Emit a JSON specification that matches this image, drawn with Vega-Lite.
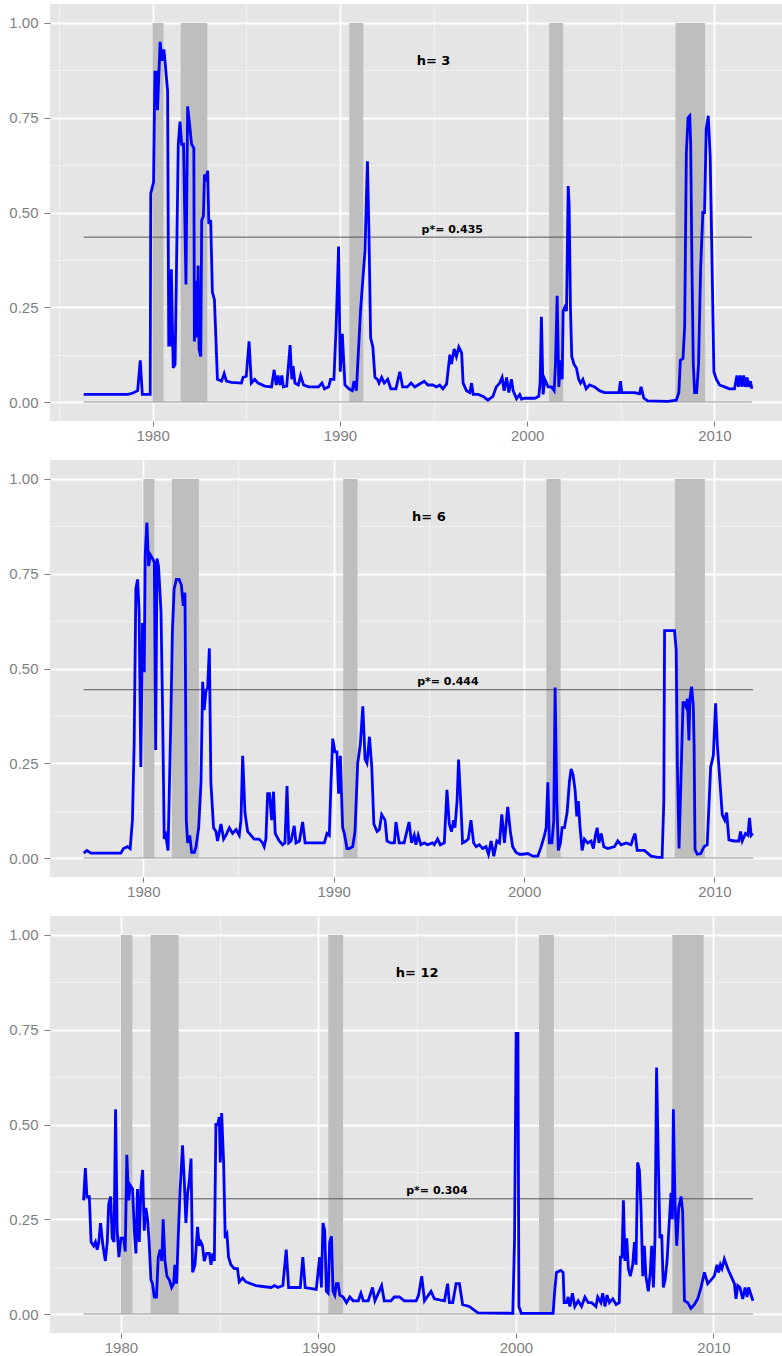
{
  "$schema": "https://vega.github.io/schema/vega-lite/v6.json",
  "padding": {"top": 4, "left": 8, "right": 0, "bottom": 0},
  "spacing": 17,
  "config": {
    "view": {"fill": "#e5e5e5", "stroke": null},
    "axis": {"domain": false, "grid": true, "title": null, "labelFont": "Liberation Sans", "labelFontSize": 15, "labelColor": "#7f7f7f", "tickColor": "#7f7f7f", "tickSize": 5, "labelOverlap": false, "labelFlush": false},
    "axisX": {"labelPadding": 2, "labelBaseline": "top"},
    "axisY": {"labelPadding": 6, "tickSize": 6}
  },
  "datasets": {
    "rec": [
      {"start": 1980.0, "end": 1980.58},
      {"start": 1981.5, "end": 1982.92},
      {"start": 1990.5, "end": 1991.25},
      {"start": 2001.17, "end": 2001.92},
      {"start": 2007.92, "end": 2009.5}
    ],
    "h3": [
      {"t":1976.32,"p":0.02},{"t":1977.5,"p":0.02},{"t":1978.67,"p":0.02},{"t":1978.85,"p":0.022},{"t":1979.0,"p":0.025},{"t":1979.2,"p":0.03},{"t":1979.34,"p":0.11},{"t":1979.45,"p":0.02},{"t":1979.87,"p":0.02},{"t":1979.9,"p":0.55},{"t":1980.05,"p":0.58},{"t":1980.12,"p":0.87},{"t":1980.2,"p":0.87},{"t":1980.26,"p":0.77},{"t":1980.4,"p":0.95},{"t":1980.5,"p":0.9},{"t":1980.6,"p":0.93},{"t":1980.66,"p":0.9},{"t":1980.8,"p":0.82},{"t":1980.86,"p":0.15},{"t":1980.93,"p":0.15},{"t":1981.0,"p":0.35},{"t":1981.1,"p":0.09},{"t":1981.2,"p":0.1},{"t":1981.37,"p":0.68},{"t":1981.46,"p":0.74},{"t":1981.55,"p":0.68},{"t":1981.65,"p":0.68},{"t":1981.78,"p":0.31},{"t":1981.87,"p":0.78},{"t":1982.0,"p":0.72},{"t":1982.08,"p":0.68},{"t":1982.2,"p":0.67},{"t":1982.23,"p":0.16},{"t":1982.32,"p":0.32},{"t":1982.37,"p":0.17},{"t":1982.43,"p":0.36},{"t":1982.48,"p":0.14},{"t":1982.57,"p":0.12},{"t":1982.62,"p":0.48},{"t":1982.71,"p":0.49},{"t":1982.77,"p":0.6},{"t":1982.86,"p":0.59},{"t":1982.94,"p":0.61},{"t":1983.0,"p":0.47},{"t":1983.1,"p":0.48},{"t":1983.19,"p":0.29},{"t":1983.3,"p":0.27},{"t":1983.46,"p":0.06},{"t":1983.68,"p":0.055},{"t":1983.82,"p":0.075},{"t":1983.94,"p":0.055},{"t":1984.2,"p":0.052},{"t":1984.74,"p":0.05},{"t":1984.83,"p":0.065},{"t":1985.0,"p":0.068},{"t":1985.15,"p":0.16},{"t":1985.27,"p":0.05},{"t":1985.45,"p":0.06},{"t":1985.63,"p":0.05},{"t":1985.99,"p":0.042},{"t":1986.35,"p":0.04},{"t":1986.49,"p":0.085},{"t":1986.6,"p":0.045},{"t":1986.7,"p":0.07},{"t":1986.8,"p":0.045},{"t":1986.9,"p":0.07},{"t":1986.98,"p":0.04},{"t":1987.16,"p":0.042},{"t":1987.34,"p":0.15},{"t":1987.43,"p":0.06},{"t":1987.5,"p":0.095},{"t":1987.6,"p":0.05},{"t":1987.78,"p":0.045},{"t":1987.9,"p":0.07},{"t":1988.06,"p":0.045},{"t":1988.33,"p":0.04},{"t":1988.86,"p":0.04},{"t":1989.04,"p":0.05},{"t":1989.18,"p":0.035},{"t":1989.4,"p":0.04},{"t":1989.5,"p":0.06},{"t":1989.68,"p":0.06},{"t":1989.8,"p":0.2},{"t":1989.93,"p":0.41},{"t":1990.02,"p":0.08},{"t":1990.13,"p":0.18},{"t":1990.2,"p":0.11},{"t":1990.27,"p":0.045},{"t":1990.48,"p":0.035},{"t":1990.66,"p":0.03},{"t":1990.75,"p":0.055},{"t":1990.88,"p":0.03},{"t":1991.1,"p":0.24},{"t":1991.34,"p":0.4},{"t":1991.47,"p":0.635},{"t":1991.55,"p":0.45},{"t":1991.64,"p":0.17},{"t":1991.76,"p":0.145},{"t":1991.87,"p":0.065},{"t":1992.0,"p":0.06},{"t":1992.09,"p":0.05},{"t":1992.23,"p":0.065},{"t":1992.37,"p":0.05},{"t":1992.55,"p":0.06},{"t":1992.72,"p":0.035},{"t":1992.99,"p":0.035},{"t":1993.2,"p":0.08},{"t":1993.35,"p":0.04},{"t":1993.6,"p":0.04},{"t":1993.8,"p":0.05},{"t":1994.0,"p":0.04},{"t":1994.17,"p":0.045},{"t":1994.5,"p":0.055},{"t":1994.7,"p":0.045},{"t":1994.97,"p":0.045},{"t":1995.15,"p":0.04},{"t":1995.33,"p":0.045},{"t":1995.5,"p":0.035},{"t":1995.7,"p":0.048},{"t":1995.87,"p":0.125},{"t":1995.96,"p":0.1},{"t":1996.1,"p":0.14},{"t":1996.22,"p":0.12},{"t":1996.35,"p":0.145},{"t":1996.5,"p":0.13},{"t":1996.58,"p":0.05},{"t":1996.76,"p":0.03},{"t":1996.94,"p":0.025},{"t":1997.03,"p":0.05},{"t":1997.12,"p":0.02},{"t":1997.38,"p":0.02},{"t":1997.65,"p":0.015},{"t":1997.9,"p":0.005},{"t":1998.17,"p":0.015},{"t":1998.35,"p":0.04},{"t":1998.53,"p":0.05},{"t":1998.66,"p":0.065},{"t":1998.77,"p":0.03},{"t":1998.9,"p":0.065},{"t":1999.02,"p":0.025},{"t":1999.16,"p":0.06},{"t":1999.25,"p":0.03},{"t":1999.43,"p":0.009},{"t":1999.6,"p":0.02},{"t":1999.7,"p":0.008},{"t":1999.88,"p":0.01},{"t":2000.41,"p":0.01},{"t":2000.62,"p":0.015},{"t":2000.69,"p":0.05},{"t":2000.76,"p":0.225},{"t":2000.85,"p":0.02},{"t":2000.94,"p":0.06},{"t":2001.03,"p":0.05},{"t":2001.12,"p":0.04},{"t":2001.3,"p":0.04},{"t":2001.44,"p":0.03},{"t":2001.51,"p":0.1},{"t":2001.6,"p":0.28},{"t":2001.69,"p":0.04},{"t":2001.78,"p":0.11},{"t":2001.87,"p":0.06},{"t":2001.92,"p":0.24},{"t":2002.01,"p":0.25},{"t":2002.1,"p":0.24},{"t":2002.19,"p":0.57},{"t":2002.24,"p":0.52},{"t":2002.31,"p":0.25},{"t":2002.38,"p":0.12},{"t":2002.5,"p":0.1},{"t":2002.63,"p":0.09},{"t":2002.75,"p":0.06},{"t":2002.85,"p":0.05},{"t":2002.97,"p":0.06},{"t":2003.15,"p":0.035},{"t":2003.33,"p":0.045},{"t":2003.6,"p":0.04},{"t":2003.86,"p":0.03},{"t":2004.13,"p":0.025},{"t":2004.48,"p":0.025},{"t":2004.9,"p":0.025},{"t":2004.98,"p":0.055},{"t":2005.05,"p":0.025},{"t":2005.73,"p":0.025},{"t":2006.0,"p":0.022},{"t":2006.08,"p":0.04},{"t":2006.23,"p":0.01},{"t":2006.44,"p":0.003},{"t":2007.51,"p":0.002},{"t":2007.96,"p":0.005},{"t":2008.1,"p":0.025},{"t":2008.18,"p":0.11},{"t":2008.32,"p":0.115},{"t":2008.41,"p":0.2},{"t":2008.5,"p":0.66},{"t":2008.59,"p":0.75},{"t":2008.68,"p":0.755},{"t":2008.73,"p":0.68},{"t":2008.8,"p":0.35},{"t":2008.87,"p":0.1},{"t":2008.94,"p":0.025},{"t":2009.05,"p":0.025},{"t":2009.15,"p":0.1},{"t":2009.26,"p":0.35},{"t":2009.38,"p":0.5},{"t":2009.47,"p":0.5},{"t":2009.56,"p":0.72},{"t":2009.67,"p":0.755},{"t":2009.77,"p":0.65},{"t":2009.86,"p":0.4},{"t":2009.97,"p":0.08},{"t":2010.1,"p":0.06},{"t":2010.27,"p":0.045},{"t":2010.54,"p":0.04},{"t":2010.8,"p":0.035},{"t":2011.07,"p":0.035},{"t":2011.2,"p":0.07},{"t":2011.28,"p":0.04},{"t":2011.38,"p":0.07},{"t":2011.47,"p":0.04},{"t":2011.56,"p":0.07},{"t":2011.65,"p":0.04},{"t":2011.74,"p":0.065},{"t":2011.83,"p":0.04},{"t":2011.92,"p":0.055},{"t":2012.0,"p":0.035}
    ],
    "h6": [
      {"t":1976.87,"p":0.013},{"t":1977.04,"p":0.02},{"t":1977.25,"p":0.013},{"t":1978.82,"p":0.013},{"t":1978.96,"p":0.025},{"t":1979.17,"p":0.03},{"t":1979.31,"p":0.025},{"t":1979.43,"p":0.1},{"t":1979.52,"p":0.3},{"t":1979.61,"p":0.71},{"t":1979.7,"p":0.735},{"t":1979.78,"p":0.65},{"t":1979.87,"p":0.24},{"t":1979.96,"p":0.62},{"t":1980.05,"p":0.49},{"t":1980.1,"p":0.8},{"t":1980.19,"p":0.885},{"t":1980.28,"p":0.77},{"t":1980.37,"p":0.8},{"t":1980.49,"p":0.79},{"t":1980.58,"p":0.78},{"t":1980.65,"p":0.285},{"t":1980.72,"p":0.79},{"t":1980.8,"p":0.77},{"t":1980.93,"p":0.65},{"t":1981.01,"p":0.4},{"t":1981.1,"p":0.05},{"t":1981.18,"p":0.06},{"t":1981.3,"p":0.02},{"t":1981.44,"p":0.35},{"t":1981.53,"p":0.6},{"t":1981.62,"p":0.71},{"t":1981.74,"p":0.735},{"t":1981.88,"p":0.735},{"t":1982.0,"p":0.72},{"t":1982.1,"p":0.665},{"t":1982.19,"p":0.7},{"t":1982.26,"p":0.1},{"t":1982.33,"p":0.04},{"t":1982.44,"p":0.06},{"t":1982.54,"p":0.015},{"t":1982.68,"p":0.015},{"t":1982.77,"p":0.03},{"t":1982.91,"p":0.08},{"t":1983.03,"p":0.2},{"t":1983.12,"p":0.465},{"t":1983.2,"p":0.39},{"t":1983.29,"p":0.44},{"t":1983.38,"p":0.45},{"t":1983.47,"p":0.553},{"t":1983.55,"p":0.2},{"t":1983.69,"p":0.08},{"t":1983.82,"p":0.07},{"t":1983.9,"p":0.045},{"t":1984.08,"p":0.09},{"t":1984.22,"p":0.05},{"t":1984.34,"p":0.06},{"t":1984.52,"p":0.08},{"t":1984.69,"p":0.065},{"t":1984.87,"p":0.075},{"t":1985.04,"p":0.06},{"t":1985.13,"p":0.1},{"t":1985.22,"p":0.27},{"t":1985.34,"p":0.12},{"t":1985.48,"p":0.07},{"t":1985.65,"p":0.06},{"t":1985.83,"p":0.05},{"t":1986.09,"p":0.05},{"t":1986.27,"p":0.04},{"t":1986.35,"p":0.03},{"t":1986.44,"p":0.05},{"t":1986.53,"p":0.17},{"t":1986.63,"p":0.17},{"t":1986.74,"p":0.1},{"t":1986.84,"p":0.175},{"t":1986.93,"p":0.065},{"t":1987.14,"p":0.045},{"t":1987.32,"p":0.035},{"t":1987.44,"p":0.04},{"t":1987.55,"p":0.19},{"t":1987.64,"p":0.04},{"t":1987.76,"p":0.045},{"t":1987.93,"p":0.085},{"t":1988.02,"p":0.04},{"t":1988.2,"p":0.045},{"t":1988.37,"p":0.095},{"t":1988.5,"p":0.04},{"t":1989.51,"p":0.04},{"t":1989.65,"p":0.065},{"t":1989.77,"p":0.06},{"t":1989.86,"p":0.2},{"t":1989.95,"p":0.315},{"t":1990.07,"p":0.28},{"t":1990.17,"p":0.28},{"t":1990.26,"p":0.17},{"t":1990.35,"p":0.27},{"t":1990.47,"p":0.08},{"t":1990.56,"p":0.065},{"t":1990.7,"p":0.025},{"t":1990.82,"p":0.025},{"t":1991.0,"p":0.03},{"t":1991.12,"p":0.07},{"t":1991.26,"p":0.25},{"t":1991.4,"p":0.3},{"t":1991.53,"p":0.4},{"t":1991.65,"p":0.26},{"t":1991.75,"p":0.25},{"t":1991.88,"p":0.32},{"t":1992.0,"p":0.24},{"t":1992.11,"p":0.09},{"t":1992.28,"p":0.07},{"t":1992.4,"p":0.075},{"t":1992.52,"p":0.115},{"t":1992.7,"p":0.1},{"t":1992.8,"p":0.045},{"t":1993.0,"p":0.04},{"t":1993.19,"p":0.04},{"t":1993.27,"p":0.095},{"t":1993.44,"p":0.04},{"t":1993.7,"p":0.04},{"t":1993.96,"p":0.095},{"t":1994.09,"p":0.04},{"t":1994.23,"p":0.06},{"t":1994.32,"p":0.035},{"t":1994.44,"p":0.06},{"t":1994.58,"p":0.035},{"t":1994.76,"p":0.04},{"t":1994.93,"p":0.035},{"t":1995.19,"p":0.04},{"t":1995.28,"p":0.035},{"t":1995.46,"p":0.05},{"t":1995.6,"p":0.035},{"t":1995.81,"p":0.04},{"t":1995.95,"p":0.18},{"t":1996.07,"p":0.09},{"t":1996.19,"p":0.07},{"t":1996.3,"p":0.1},{"t":1996.37,"p":0.08},{"t":1996.48,"p":0.15},{"t":1996.56,"p":0.26},{"t":1996.69,"p":0.13},{"t":1996.77,"p":0.04},{"t":1996.95,"p":0.045},{"t":1997.07,"p":0.05},{"t":1997.21,"p":0.1},{"t":1997.35,"p":0.04},{"t":1997.48,"p":0.03},{"t":1997.65,"p":0.035},{"t":1997.83,"p":0.025},{"t":1998.0,"p":0.03},{"t":1998.13,"p":0.01},{"t":1998.27,"p":0.045},{"t":1998.41,"p":0.005},{"t":1998.57,"p":0.045},{"t":1998.71,"p":0.04},{"t":1998.83,"p":0.115},{"t":1998.97,"p":0.04},{"t":1999.14,"p":0.135},{"t":1999.28,"p":0.07},{"t":1999.4,"p":0.03},{"t":1999.58,"p":0.015},{"t":1999.76,"p":0.01},{"t":1999.93,"p":0.01},{"t":2000.2,"p":0.012},{"t":2000.46,"p":0.005},{"t":2000.72,"p":0.005},{"t":2000.9,"p":0.03},{"t":2001.07,"p":0.06},{"t":2001.16,"p":0.08},{"t":2001.25,"p":0.2},{"t":2001.33,"p":0.04},{"t":2001.46,"p":0.04},{"t":2001.56,"p":0.1},{"t":2001.63,"p":0.45},{"t":2001.72,"p":0.15},{"t":2001.8,"p":0.02},{"t":2001.91,"p":0.04},{"t":2002.0,"p":0.08},{"t":2002.12,"p":0.08},{"t":2002.26,"p":0.12},{"t":2002.38,"p":0.2},{"t":2002.47,"p":0.235},{"t":2002.57,"p":0.22},{"t":2002.68,"p":0.18},{"t":2002.77,"p":0.11},{"t":2002.85,"p":0.15},{"t":2002.94,"p":0.08},{"t":2003.05,"p":0.02},{"t":2003.17,"p":0.05},{"t":2003.34,"p":0.04},{"t":2003.52,"p":0.045},{"t":2003.64,"p":0.025},{"t":2003.75,"p":0.06},{"t":2003.84,"p":0.08},{"t":2003.93,"p":0.04},{"t":2004.05,"p":0.065},{"t":2004.19,"p":0.03},{"t":2004.4,"p":0.025},{"t":2004.75,"p":0.03},{"t":2004.92,"p":0.045},{"t":2005.1,"p":0.035},{"t":2005.36,"p":0.04},{"t":2005.62,"p":0.035},{"t":2005.71,"p":0.05},{"t":2005.83,"p":0.065},{"t":2005.94,"p":0.02},{"t":2006.32,"p":0.02},{"t":2006.67,"p":0.005},{"t":2007.02,"p":0.002},{"t":2007.25,"p":0.002},{"t":2007.34,"p":0.15},{"t":2007.38,"p":0.6},{"t":2007.9,"p":0.6},{"t":2007.99,"p":0.55},{"t":2008.05,"p":0.25},{"t":2008.14,"p":0.025},{"t":2008.22,"p":0.17},{"t":2008.35,"p":0.41},{"t":2008.42,"p":0.41},{"t":2008.5,"p":0.4},{"t":2008.58,"p":0.42},{"t":2008.66,"p":0.31},{"t":2008.71,"p":0.42},{"t":2008.8,"p":0.452},{"t":2008.89,"p":0.4},{"t":2008.93,"p":0.3},{"t":2008.98,"p":0.022},{"t":2009.1,"p":0.01},{"t":2009.28,"p":0.012},{"t":2009.45,"p":0.03},{"t":2009.62,"p":0.035},{"t":2009.8,"p":0.24},{"t":2009.94,"p":0.27},{"t":2010.06,"p":0.408},{"t":2010.15,"p":0.3},{"t":2010.29,"p":0.2},{"t":2010.41,"p":0.114},{"t":2010.54,"p":0.1},{"t":2010.64,"p":0.12},{"t":2010.76,"p":0.048},{"t":2011.02,"p":0.045},{"t":2011.28,"p":0.045},{"t":2011.37,"p":0.07},{"t":2011.46,"p":0.045},{"t":2011.63,"p":0.065},{"t":2011.76,"p":0.06},{"t":2011.84,"p":0.106},{"t":2011.93,"p":0.06},{"t":2012.01,"p":0.065}
    ],
    "h12": [
      {"t":1978.11,"p":0.3},{"t":1978.2,"p":0.385},{"t":1978.28,"p":0.31},{"t":1978.4,"p":0.31},{"t":1978.49,"p":0.19},{"t":1978.62,"p":0.18},{"t":1978.71,"p":0.19},{"t":1978.8,"p":0.17},{"t":1978.88,"p":0.19},{"t":1978.97,"p":0.24},{"t":1979.09,"p":0.18},{"t":1979.21,"p":0.14},{"t":1979.31,"p":0.19},{"t":1979.38,"p":0.29},{"t":1979.48,"p":0.31},{"t":1979.56,"p":0.2},{"t":1979.65,"p":0.19},{"t":1979.73,"p":0.54},{"t":1979.81,"p":0.22},{"t":1979.9,"p":0.15},{"t":1980.0,"p":0.2},{"t":1980.14,"p":0.2},{"t":1980.22,"p":0.165},{"t":1980.3,"p":0.42},{"t":1980.39,"p":0.3},{"t":1980.47,"p":0.34},{"t":1980.59,"p":0.33},{"t":1980.68,"p":0.22},{"t":1980.76,"p":0.16},{"t":1980.84,"p":0.33},{"t":1980.93,"p":0.19},{"t":1981.01,"p":0.33},{"t":1981.1,"p":0.38},{"t":1981.18,"p":0.22},{"t":1981.26,"p":0.28},{"t":1981.35,"p":0.25},{"t":1981.43,"p":0.19},{"t":1981.52,"p":0.09},{"t":1981.6,"p":0.08},{"t":1981.69,"p":0.045},{"t":1981.8,"p":0.045},{"t":1981.89,"p":0.15},{"t":1981.99,"p":0.17},{"t":1982.07,"p":0.14},{"t":1982.14,"p":0.25},{"t":1982.23,"p":0.14},{"t":1982.33,"p":0.1},{"t":1982.45,"p":0.09},{"t":1982.57,"p":0.07},{"t":1982.67,"p":0.08},{"t":1982.73,"p":0.13},{"t":1982.82,"p":0.08},{"t":1982.9,"p":0.2},{"t":1982.99,"p":0.32},{"t":1983.12,"p":0.445},{"t":1983.21,"p":0.35},{"t":1983.29,"p":0.24},{"t":1983.38,"p":0.32},{"t":1983.46,"p":0.35},{"t":1983.55,"p":0.41},{"t":1983.63,"p":0.11},{"t":1983.75,"p":0.13},{"t":1983.88,"p":0.23},{"t":1983.97,"p":0.18},{"t":1984.05,"p":0.19},{"t":1984.13,"p":0.18},{"t":1984.22,"p":0.14},{"t":1984.34,"p":0.16},{"t":1984.48,"p":0.16},{"t":1984.56,"p":0.13},{"t":1984.65,"p":0.16},{"t":1984.73,"p":0.14},{"t":1984.81,"p":0.5},{"t":1984.9,"p":0.5},{"t":1984.98,"p":0.52},{"t":1985.03,"p":0.4},{"t":1985.1,"p":0.53},{"t":1985.2,"p":0.4},{"t":1985.28,"p":0.2},{"t":1985.37,"p":0.21},{"t":1985.45,"p":0.15},{"t":1985.57,"p":0.13},{"t":1985.74,"p":0.12},{"t":1985.9,"p":0.12},{"t":1985.99,"p":0.085},{"t":1986.16,"p":0.095},{"t":1986.33,"p":0.085},{"t":1986.58,"p":0.08},{"t":1986.84,"p":0.075},{"t":1987.27,"p":0.072},{"t":1987.61,"p":0.07},{"t":1987.78,"p":0.075},{"t":1987.95,"p":0.07},{"t":1988.2,"p":0.075},{"t":1988.37,"p":0.17},{"t":1988.49,"p":0.07},{"t":1989.08,"p":0.07},{"t":1989.21,"p":0.15},{"t":1989.33,"p":0.07},{"t":1989.89,"p":0.065},{"t":1990.06,"p":0.15},{"t":1990.15,"p":0.07},{"t":1990.23,"p":0.24},{"t":1990.32,"p":0.22},{"t":1990.4,"p":0.06},{"t":1990.49,"p":0.055},{"t":1990.57,"p":0.19},{"t":1990.66,"p":0.205},{"t":1990.74,"p":0.06},{"t":1990.83,"p":0.05},{"t":1990.91,"p":0.08},{"t":1991.0,"p":0.08},{"t":1991.08,"p":0.05},{"t":1991.25,"p":0.045},{"t":1991.42,"p":0.03},{"t":1991.59,"p":0.045},{"t":1991.76,"p":0.035},{"t":1992.02,"p":0.035},{"t":1992.15,"p":0.055},{"t":1992.27,"p":0.035},{"t":1992.52,"p":0.035},{"t":1992.74,"p":0.07},{"t":1992.86,"p":0.035},{"t":1993.2,"p":0.075},{"t":1993.33,"p":0.035},{"t":1993.67,"p":0.035},{"t":1993.84,"p":0.045},{"t":1994.1,"p":0.045},{"t":1994.35,"p":0.035},{"t":1994.95,"p":0.035},{"t":1995.07,"p":0.05},{"t":1995.23,"p":0.1},{"t":1995.37,"p":0.035},{"t":1995.7,"p":0.06},{"t":1995.87,"p":0.04},{"t":1996.38,"p":0.035},{"t":1996.54,"p":0.08},{"t":1996.63,"p":0.03},{"t":1996.8,"p":0.03},{"t":1996.97,"p":0.08},{"t":1997.14,"p":0.08},{"t":1997.3,"p":0.025},{"t":1997.64,"p":0.02},{"t":1998.07,"p":0.003},{"t":1999.84,"p":0.002},{"t":1999.93,"p":0.2},{"t":2000.01,"p":0.74},{"t":2000.1,"p":0.74},{"t":2000.15,"p":0.02},{"t":2000.27,"p":0.002},{"t":2001.88,"p":0.002},{"t":2001.96,"p":0.06},{"t":2002.05,"p":0.11},{"t":2002.27,"p":0.115},{"t":2002.39,"p":0.11},{"t":2002.44,"p":0.03},{"t":2002.56,"p":0.03},{"t":2002.64,"p":0.045},{"t":2002.73,"p":0.02},{"t":2002.86,"p":0.055},{"t":2002.98,"p":0.02},{"t":2003.15,"p":0.035},{"t":2003.32,"p":0.02},{"t":2003.49,"p":0.045},{"t":2003.66,"p":0.03},{"t":2003.83,"p":0.03},{"t":2004.05,"p":0.02},{"t":2004.14,"p":0.045},{"t":2004.3,"p":0.03},{"t":2004.39,"p":0.055},{"t":2004.51,"p":0.02},{"t":2004.61,"p":0.05},{"t":2004.73,"p":0.03},{"t":2004.9,"p":0.04},{"t":2005.07,"p":0.025},{"t":2005.23,"p":0.03},{"t":2005.29,"p":0.15},{"t":2005.37,"p":0.15},{"t":2005.44,"p":0.3},{"t":2005.52,"p":0.14},{"t":2005.61,"p":0.2},{"t":2005.69,"p":0.12},{"t":2005.79,"p":0.1},{"t":2005.91,"p":0.13},{"t":2006.0,"p":0.19},{"t":2006.08,"p":0.13},{"t":2006.16,"p":0.4},{"t":2006.25,"p":0.38},{"t":2006.33,"p":0.28},{"t":2006.42,"p":0.1},{"t":2006.5,"p":0.18},{"t":2006.58,"p":0.1},{"t":2006.7,"p":0.06},{"t":2006.8,"p":0.11},{"t":2006.87,"p":0.18},{"t":2006.96,"p":0.07},{"t":2007.04,"p":0.2},{"t":2007.12,"p":0.65},{"t":2007.21,"p":0.4},{"t":2007.29,"p":0.2},{"t":2007.38,"p":0.21},{"t":2007.46,"p":0.07},{"t":2007.55,"p":0.09},{"t":2007.65,"p":0.14},{"t":2007.77,"p":0.25},{"t":2007.85,"p":0.32},{"t":2007.92,"p":0.25},{"t":2007.97,"p":0.54},{"t":2008.05,"p":0.3},{"t":2008.14,"p":0.18},{"t":2008.24,"p":0.28},{"t":2008.36,"p":0.31},{"t":2008.44,"p":0.27},{"t":2008.53,"p":0.035},{"t":2008.7,"p":0.03},{"t":2008.86,"p":0.015},{"t":2009.03,"p":0.025},{"t":2009.2,"p":0.04},{"t":2009.37,"p":0.07},{"t":2009.54,"p":0.11},{"t":2009.71,"p":0.08},{"t":2009.88,"p":0.09},{"t":2010.04,"p":0.1},{"t":2010.18,"p":0.13},{"t":2010.26,"p":0.11},{"t":2010.35,"p":0.13},{"t":2010.43,"p":0.12},{"t":2010.55,"p":0.145},{"t":2010.72,"p":0.12},{"t":2010.89,"p":0.1},{"t":2011.06,"p":0.08},{"t":2011.14,"p":0.04},{"t":2011.23,"p":0.075},{"t":2011.34,"p":0.07},{"t":2011.48,"p":0.04},{"t":2011.6,"p":0.07},{"t":2011.7,"p":0.045},{"t":2011.78,"p":0.07},{"t":2012.0,"p":0.035}
    ]
  },
  "vconcat": [
    {
      "width": 733, "height": 417,
      "layer": [
        {"data": {"name": "rec"}, "mark": {"type": "rect", "color": "#bebebe"},
         "encoding": {
           "x": {"field": "start", "type": "quantitative", "scale": {"domain": [1974.52, 2013.66], "nice": false, "zero": false},
             "axis": {"grid": true, "values": [1975, 1980, 1985, 1990, 1995, 2000, 2005, 2010], "format": "d", "labelExpr": "datum.value % 10 === 0 ? datum.label : ''",
               "gridColor": {"condition": {"test": "datum.value % 10 === 0", "value": "#ffffff"}, "value": "#f2f2f2"},
               "gridWidth": {"condition": {"test": "datum.value % 10 === 0", "value": 1.8}, "value": 0.9},
               "tickOpacity": {"condition": {"test": "datum.value % 10 === 0", "value": 1}, "value": 0}}},
           "x2": {"field": "end"},
           "y": {"datum": 0, "type": "quantitative", "scale": {"domain": [-0.05, 1.05], "nice": false},
             "axis": {"grid": true, "values": [0, 0.125, 0.25, 0.375, 0.5, 0.625, 0.75, 0.875, 1], "format": ".2f", "labelExpr": "datum.value % 0.25 === 0 ? datum.label : ''",
               "gridColor": {"condition": {"test": "datum.value % 0.25 === 0", "value": "#ffffff"}, "value": "#f2f2f2"},
               "gridWidth": {"condition": {"test": "datum.value % 0.25 === 0", "value": 1.8}, "value": 0.9},
               "tickOpacity": {"condition": {"test": "datum.value % 0.25 === 0", "value": 1}, "value": 0}}},
           "y2": {"datum": 1}
         }},
        {"data": {"values": [{}]}, "mark": {"type": "rule", "color": "#b3b3b3", "strokeWidth": 1.5},
         "encoding": {"x": {"datum": 1976.32, "type": "quantitative"}, "x2": {"datum": 2012.0}, "y": {"datum": 0, "type": "quantitative"}}},
        {"data": {"values": [{}]}, "mark": {"type": "rule", "color": "#555555", "strokeWidth": 1},
         "encoding": {"x": {"datum": 1976.32, "type": "quantitative"}, "x2": {"datum": 2012.0}, "y": {"datum": 0.435, "type": "quantitative"}}},
        {"data": {"name": "h3"}, "mark": {"type": "line", "color": "#0000ff", "strokeWidth": 2.8},
         "encoding": {"x": {"field": "t", "type": "quantitative"}, "y": {"field": "p", "type": "quantitative"}}},
        {"data": {"values": [{}]}, "mark": {"type": "text", "text": "h= 3", "font": "DejaVu Sans", "fontWeight": "bold", "fontSize": 13, "color": "#000000", "baseline": "middle"},
         "encoding": {"x": {"datum": 1995, "type": "quantitative"}, "y": {"datum": 0.9, "type": "quantitative"}}},
        {"data": {"values": [{}]}, "mark": {"type": "text", "text": "p*= 0.435", "font": "DejaVu Sans", "fontWeight": "bold", "fontSize": 11, "color": "#000000", "baseline": "middle"},
         "encoding": {"x": {"datum": 1996, "type": "quantitative"}, "y": {"datum": 0.455, "type": "quantitative"}}}
      ]
    },
    {
      "width": 733, "height": 417,
      "layer": [
        {"data": {"name": "rec"}, "mark": {"type": "rect", "color": "#bebebe"},
         "encoding": {
           "x": {"field": "start", "type": "quantitative", "scale": {"domain": [1975.1, 2013.6], "nice": false, "zero": false},
             "axis": {"grid": true, "values": [1980, 1985, 1990, 1995, 2000, 2005, 2010], "format": "d", "labelExpr": "datum.value % 10 === 0 ? datum.label : ''",
               "gridColor": {"condition": {"test": "datum.value % 10 === 0", "value": "#ffffff"}, "value": "#f2f2f2"},
               "gridWidth": {"condition": {"test": "datum.value % 10 === 0", "value": 1.8}, "value": 0.9},
               "tickOpacity": {"condition": {"test": "datum.value % 10 === 0", "value": 1}, "value": 0}}},
           "x2": {"field": "end"},
           "y": {"datum": 0, "type": "quantitative", "scale": {"domain": [-0.05, 1.05], "nice": false},
             "axis": {"grid": true, "values": [0, 0.125, 0.25, 0.375, 0.5, 0.625, 0.75, 0.875, 1], "format": ".2f", "labelExpr": "datum.value % 0.25 === 0 ? datum.label : ''",
               "gridColor": {"condition": {"test": "datum.value % 0.25 === 0", "value": "#ffffff"}, "value": "#f2f2f2"},
               "gridWidth": {"condition": {"test": "datum.value % 0.25 === 0", "value": 1.8}, "value": 0.9},
               "tickOpacity": {"condition": {"test": "datum.value % 0.25 === 0", "value": 1}, "value": 0}}},
           "y2": {"datum": 1}
         }},
        {"data": {"values": [{}]}, "mark": {"type": "rule", "color": "#b3b3b3", "strokeWidth": 1.5},
         "encoding": {"x": {"datum": 1976.87, "type": "quantitative"}, "x2": {"datum": 2012.03}, "y": {"datum": 0, "type": "quantitative"}}},
        {"data": {"values": [{}]}, "mark": {"type": "rule", "color": "#555555", "strokeWidth": 1},
         "encoding": {"x": {"datum": 1976.87, "type": "quantitative"}, "x2": {"datum": 2012.03}, "y": {"datum": 0.444, "type": "quantitative"}}},
        {"data": {"name": "h6"}, "mark": {"type": "line", "color": "#0000ff", "strokeWidth": 2.8},
         "encoding": {"x": {"field": "t", "type": "quantitative"}, "y": {"field": "p", "type": "quantitative"}}},
        {"data": {"values": [{}]}, "mark": {"type": "text", "text": "h= 6", "font": "DejaVu Sans", "fontWeight": "bold", "fontSize": 13, "color": "#000000", "baseline": "middle"},
         "encoding": {"x": {"datum": 1995, "type": "quantitative"}, "y": {"datum": 0.9, "type": "quantitative"}}},
        {"data": {"values": [{}]}, "mark": {"type": "text", "text": "p*= 0.444", "font": "DejaVu Sans", "fontWeight": "bold", "fontSize": 11, "color": "#000000", "baseline": "middle"},
         "encoding": {"x": {"datum": 1996, "type": "quantitative"}, "y": {"datum": 0.464, "type": "quantitative"}}}
      ]
    },
    {
      "width": 733, "height": 417,
      "layer": [
        {"data": {"name": "rec"}, "mark": {"type": "rect", "color": "#bebebe"},
         "encoding": {
           "x": {"field": "start", "type": "quantitative", "scale": {"domain": [1976.41, 2013.52], "nice": false, "zero": false},
             "axis": {"grid": true, "values": [1980, 1985, 1990, 1995, 2000, 2005, 2010], "format": "d", "labelExpr": "datum.value % 10 === 0 ? datum.label : ''",
               "gridColor": {"condition": {"test": "datum.value % 10 === 0", "value": "#ffffff"}, "value": "#f2f2f2"},
               "gridWidth": {"condition": {"test": "datum.value % 10 === 0", "value": 1.8}, "value": 0.9},
               "tickOpacity": {"condition": {"test": "datum.value % 10 === 0", "value": 1}, "value": 0}}},
           "x2": {"field": "end"},
           "y": {"datum": 0, "type": "quantitative", "scale": {"domain": [-0.05, 1.05], "nice": false},
             "axis": {"grid": true, "values": [0, 0.125, 0.25, 0.375, 0.5, 0.625, 0.75, 0.875, 1], "format": ".2f", "labelExpr": "datum.value % 0.25 === 0 ? datum.label : ''",
               "gridColor": {"condition": {"test": "datum.value % 0.25 === 0", "value": "#ffffff"}, "value": "#f2f2f2"},
               "gridWidth": {"condition": {"test": "datum.value % 0.25 === 0", "value": 1.8}, "value": 0.9},
               "tickOpacity": {"condition": {"test": "datum.value % 0.25 === 0", "value": 1}, "value": 0}}},
           "y2": {"datum": 1}
         }},
        {"data": {"values": [{}]}, "mark": {"type": "rule", "color": "#b3b3b3", "strokeWidth": 1.5},
         "encoding": {"x": {"datum": 1978.11, "type": "quantitative"}, "x2": {"datum": 2012.0}, "y": {"datum": 0, "type": "quantitative"}}},
        {"data": {"values": [{}]}, "mark": {"type": "rule", "color": "#555555", "strokeWidth": 1},
         "encoding": {"x": {"datum": 1978.11, "type": "quantitative"}, "x2": {"datum": 2012.0}, "y": {"datum": 0.304, "type": "quantitative"}}},
        {"data": {"name": "h12"}, "mark": {"type": "line", "color": "#0000ff", "strokeWidth": 2.8},
         "encoding": {"x": {"field": "t", "type": "quantitative"}, "y": {"field": "p", "type": "quantitative"}}},
        {"data": {"values": [{}]}, "mark": {"type": "text", "text": "h= 12", "font": "DejaVu Sans", "fontWeight": "bold", "fontSize": 13, "color": "#000000", "baseline": "middle"},
         "encoding": {"x": {"datum": 1995, "type": "quantitative"}, "y": {"datum": 0.9, "type": "quantitative"}}},
        {"data": {"values": [{}]}, "mark": {"type": "text", "text": "p*= 0.304", "font": "DejaVu Sans", "fontWeight": "bold", "fontSize": 11, "color": "#000000", "baseline": "middle"},
         "encoding": {"x": {"datum": 1996, "type": "quantitative"}, "y": {"datum": 0.324, "type": "quantitative"}}}
      ]
    }
  ]
}
